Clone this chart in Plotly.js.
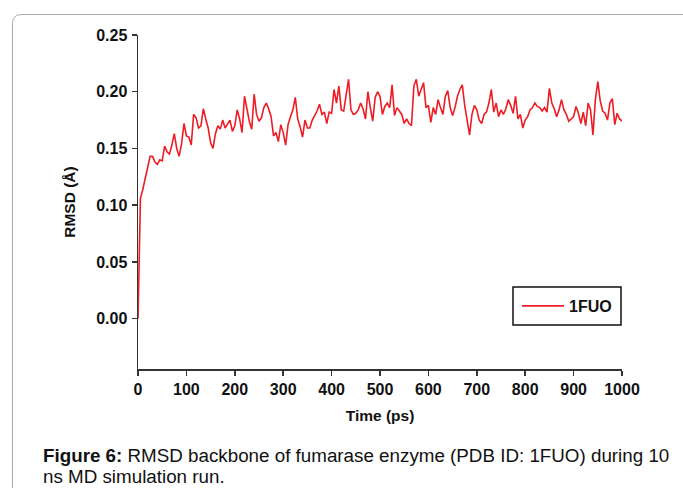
<!DOCTYPE html>
<html>
<head>
<meta charset="utf-8">
<script src="https://cdn.plot.ly/plotly-3.0.1.min.js"></script>
<style>
  html, body { margin: 0; padding: 0; background: #ffffff; }
  #chart { width: 683px; height: 488px; }
</style>
</head>
<body>
<div id="chart"></div>
<script>
// ---- data ----
const seriesName = "1FUO";
const timeStep = 5; // ps between samples
const rmsd = [
  0.000, 0.106, 0.114, 0.124, 0.133, 0.143, 0.143, 0.138, 0.136, 0.140,
  0.139, 0.152, 0.147, 0.145, 0.153, 0.163, 0.150, 0.143, 0.154, 0.172,
  0.161, 0.160, 0.153, 0.180, 0.177, 0.168, 0.170, 0.185, 0.176, 0.168,
  0.155, 0.150, 0.163, 0.170, 0.167, 0.175, 0.168, 0.172, 0.175, 0.165,
  0.170, 0.184, 0.176, 0.164, 0.196, 0.185, 0.174, 0.167, 0.198, 0.180,
  0.174, 0.177, 0.186, 0.190, 0.185, 0.178, 0.161, 0.164, 0.156, 0.171,
  0.164, 0.153, 0.171, 0.178, 0.184, 0.195, 0.176, 0.169, 0.160, 0.175,
  0.168, 0.168, 0.175, 0.179, 0.183, 0.189, 0.180, 0.182, 0.172, 0.182,
  0.181, 0.202, 0.190, 0.205, 0.184, 0.183, 0.198, 0.211, 0.184, 0.180,
  0.181, 0.184, 0.190, 0.185, 0.176, 0.200, 0.186, 0.174, 0.195, 0.200,
  0.196, 0.180, 0.187, 0.190, 0.186, 0.206, 0.179, 0.186, 0.183, 0.180,
  0.172, 0.176, 0.172, 0.170, 0.205, 0.211, 0.196, 0.202, 0.208, 0.186,
  0.188, 0.173, 0.186, 0.180, 0.193, 0.186, 0.180, 0.196, 0.201, 0.186,
  0.179, 0.186, 0.196, 0.202, 0.206, 0.188, 0.174, 0.162, 0.180, 0.188,
  0.184, 0.175, 0.172, 0.180, 0.182, 0.190, 0.202, 0.182, 0.190, 0.178,
  0.184, 0.180, 0.185, 0.193, 0.188, 0.181, 0.196, 0.176, 0.180, 0.168,
  0.175, 0.178, 0.184, 0.186, 0.190, 0.187, 0.186, 0.183, 0.186, 0.182,
  0.203, 0.190, 0.185, 0.178, 0.184, 0.193, 0.184, 0.180, 0.174, 0.176,
  0.178, 0.187, 0.181, 0.172, 0.182, 0.170, 0.190, 0.184, 0.162, 0.193,
  0.209, 0.192, 0.183, 0.181, 0.175, 0.190, 0.194, 0.171, 0.181, 0.176,
  0.174
];
const time = rmsd.map((_, i) => i * timeStep);
const xTickVals = [0, 100, 200, 300, 400, 500, 600, 700, 800, 900, 1000];
const yTickVals = [0.00, 0.05, 0.10, 0.15, 0.20, 0.25];
const xTitle = "Time (ps)";
const yTitle = "RMSD (Å)";
const captionLine1Bold = "Figure 6:";
const captionLine1 = " RMSD backbone of fumarase enzyme (PDB ID: 1FUO) during 10";
const captionLine2 = "ns MD simulation run.";

// ---- layout helpers (pixel -> paper) ----
const W = 683, H = 488;
const L = 138, R = 622, T = 35, B = 369;
const px = x => (x - L) / (R - L);
const py = y => (B - y) / (B - T);

function framePath() {
  const x0 = 12.5, y0 = 14.5, x1 = 720, y1 = 520, r = 9;
  return "M" + px(x0) + "," + py(y1) +
         " L" + px(x0) + "," + py(y0 + r) +
         " Q" + px(x0) + "," + py(y0) + " " + px(x0 + r) + "," + py(y0) +
         " L" + px(x1) + "," + py(y0);
}

const font = "Arial, 'Liberation Sans', Helvetica, sans-serif";
const red = "#ee1c24";

const trace = {
  x: time, y: rmsd, type: "scatter", mode: "lines", name: seriesName,
  line: { color: red, width: 1.6 }
};

const axisCommon = {
  showgrid: false, zeroline: false, showline: true,
  linecolor: "#333333", linewidth: 1.5,
  ticks: "outside", ticklen: 5, tickwidth: 1.5, tickcolor: "#333333",
  tickfont: { family: font, size: 16, color: "#111111", weight: "bold" },
  title: { font: { family: font, size: 15.5, color: "#111111", weight: "bold" } },
  fixedrange: true
};

const layout = {
  width: W, height: H,
  margin: { l: L, r: W - R, t: T, b: H - B, pad: 0 },
  paper_bgcolor: "#ffffff", plot_bgcolor: "#ffffff",
  showlegend: true,
  xaxis: Object.assign({}, axisCommon, {
    range: [0, 1000], tickmode: "array", tickvals: xTickVals,
    ticktext: xTickVals.map(String),
    title: Object.assign({}, axisCommon.title, { text: xTitle, standoff: 13 })
  }),
  yaxis: Object.assign({}, axisCommon, {
    range: [-0.0444, 0.25], tickmode: "array", tickvals: yTickVals,
    ticktext: yTickVals.map(v => v.toFixed(2)),
    ticklabelstandoff: 1,
    title: Object.assign({}, axisCommon.title, { text: yTitle, standoff: 16 })
  }),
  legend: {
    x: px(517), y: py(306), xanchor: "left", yanchor: "middle",
    bgcolor: "rgba(0,0,0,0)", borderwidth: 0, itemwidth: 42,
    font: { family: font, size: 16, color: "#111111", weight: "bold" }
  },
  shapes: [
    { type: "rect", xref: "paper", yref: "paper",
      x0: px(513), x1: px(621), y0: py(325), y1: py(287),
      line: { color: "#111111", width: 1.5 }, fillcolor: "rgba(0,0,0,0)" },
    { type: "path", xref: "paper", yref: "paper", path: framePath(),
      line: { color: "#a8a8a8", width: 1 } }
  ],
  annotations: [
    { xref: "paper", yref: "paper", x: px(41), y: py(455),
      xanchor: "left", yanchor: "middle", align: "left", showarrow: false,
      text: "<b>" + captionLine1Bold + "</b>" + captionLine1,
      font: { family: font, size: 18.8, color: "#111111" } },
    { xref: "paper", yref: "paper", x: px(41), y: py(476),
      xanchor: "left", yanchor: "middle", align: "left", showarrow: false,
      text: captionLine2,
      font: { family: font, size: 18.8, color: "#111111" } }
  ]
};

Plotly.newPlot("chart", [trace], layout, { staticPlot: true, displayModeBar: false });
</script>
</body>
</html>
